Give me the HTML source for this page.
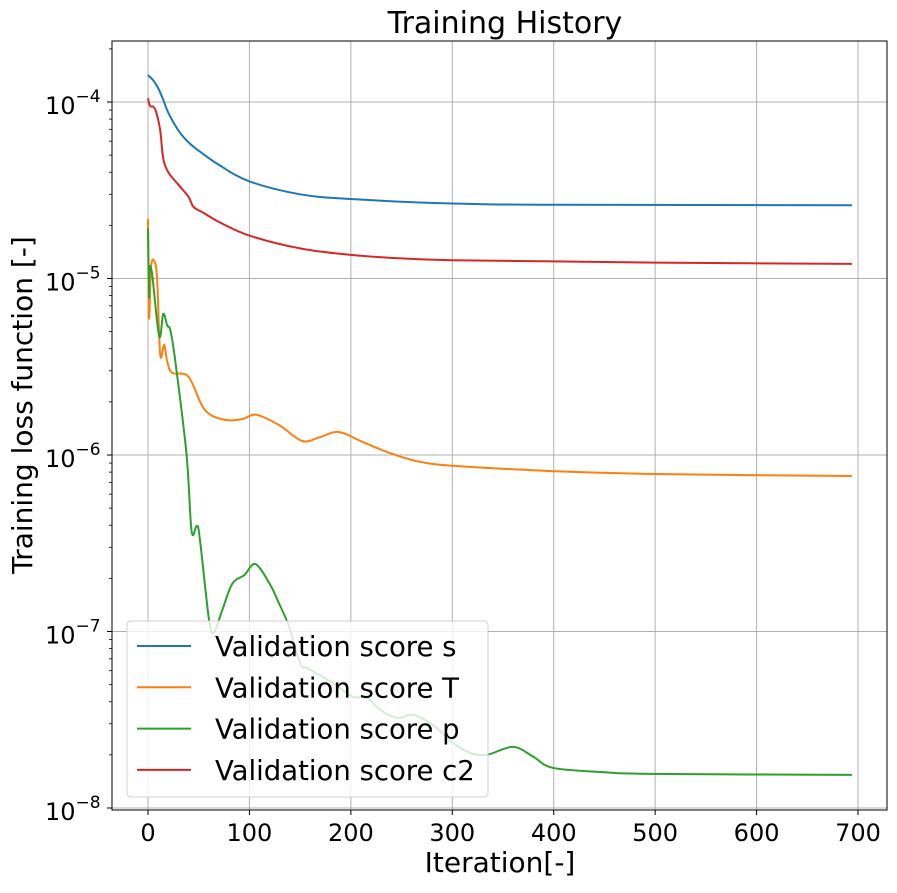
<!DOCTYPE html>
<html><head><meta charset="utf-8"><style>
html,body{margin:0;padding:0;background:#fff;}
svg text{font-family:"DejaVu Sans","Liberation Sans",sans-serif;}
</style></head><body>
<svg id="chart" width="897" height="888" viewBox="0 0 897 888" xmlns="http://www.w3.org/2000/svg">
<rect x="0" y="0" width="897" height="888" fill="#fff"/>
<text x="505" y="33" font-size="30" text-anchor="middle">Training History</text>
<g id="grid"></g>
<g id="series"></g>
<g id="axes"></g>
<text x="500" y="872" font-size="28" text-anchor="middle">Iteration[-]</text>
<text x="0" y="0" font-size="28" text-anchor="middle" transform="translate(32,405) rotate(-90)">Training loss function [-]</text>
<g id="legend"></g>
</svg>
<script>
const xTicks = [0,100,200,300,400,500,600,700];
const yExps = [-4,-5,-6,-7,-8];
const seriesNames = ["Validation score s","Validation score T","Validation score p","Validation score c2"];
const seriesColors = ["#1f77b4","#ff7f0e","#2ca02c","#d62728"];
const sIter = [0,5,10,15,20,30,40,50,70,100,150,200,300,400,694];
const sVal = [1.42e-4,1.33e-4,1.2e-4,1.03e-4,8.7e-5,6.9e-5,5.9e-5,5.3e-5,4.4e-5,3.55e-5,3.0e-5,2.82e-5,2.66e-5,2.62e-5,2.6e-5];
const tIter = [0,1,3,6,9,12,16,19,24,40,56,76,93,107,129,152,169,188,211,230,250,270,300,400,500,694];
const tVal = [2.17e-5,6.0e-6,1.16e-5,1.26e-5,1.0e-5,3.7e-6,4.2e-6,3.37e-6,2.92e-6,2.77e-6,1.8e-6,1.58e-6,1.6e-6,1.69e-6,1.48e-6,1.2e-6,1.26e-6,1.35e-6,1.19e-6,1.07e-6,9.75e-7,9.1e-7,8.7e-7,8.1e-7,7.8e-7,7.6e-7];
const pIter = [0,1,1.5,4,11,15,19,22,27,38,43,48,51,60,65,73,83,95,106,120,129,139,150,157,173,189,202,216,229,246,261,281,301,318,334,360,380,399,446,495,694];
const pVal = [1.93e-5,7.9e-6,1.13e-5,1.06e-5,4.7e-6,6.3e-6,5.4e-6,5.1e-6,3.37e-6,1.01e-6,3.7e-7,3.96e-7,3.4e-7,1.18e-7,9.9e-8,1.31e-7,1.86e-7,2.09e-7,2.41e-7,1.86e-7,1.45e-7,1.07e-7,6.6e-8,6.2e-8,5.5e-8,4.8e-8,4.26e-8,4.2e-8,3.59e-8,3.24e-8,3.37e-8,2.95e-8,2.33e-8,2.05e-8,2.0e-8,2.22e-8,1.95e-8,1.69e-8,1.6e-8,1.56e-8,1.54e-8];
const cIter = [0,2,5,8,12,15,20,30,40,45,55,70,100,150,200,250,300,400,500,694];
const cVal = [1.05e-4,9.5e-5,9.4e-5,8.8e-5,6.9e-5,4.8e-5,4.0e-5,3.4e-5,2.9e-5,2.54e-5,2.35e-5,2.09e-5,1.75e-5,1.48e-5,1.36e-5,1.3e-5,1.27e-5,1.25e-5,1.23e-5,1.21e-5];

const L=112,R=887,T=41,B=810;
const X = v => 148 + v*1.0143;
const Y = v => 102 - (Math.log10(v)+4)*176.5;
const NS="http://www.w3.org/2000/svg";
function mk(tag,attrs,parent){const e=document.createElementNS(NS,tag);for(const k in attrs)e.setAttribute(k,attrs[k]);parent.appendChild(e);return e;}
const grid=document.getElementById('grid'), axes=document.getElementById('axes'), ser=document.getElementById('series'), leg=document.getElementById('legend');

xTicks.forEach(t=>{
  const g=mk('line',{x1:X(t),x2:X(t),y1:T,y2:B,stroke:'#b0b0b0','stroke-width':1},grid);
  
  
  const tk=mk('line',{x1:X(t),x2:X(t),y1:B,y2:B+5,stroke:'#000','stroke-width':1},axes);
  
  
  const tx=mk('text',{x:X(t),y:B+31,'font-size':24,'text-anchor':'middle'},axes);
  tx.textContent=String(t);
  
  
});
yExps.forEach(e=>{
  const y=Y(Math.pow(10,e));
  const g=mk('line',{x1:L,x2:R,y1:y,y2:y,stroke:'#b0b0b0','stroke-width':1},grid);
  
  
  const tk=mk('line',{x1:L-5,x2:L,y1:y,y2:y,stroke:'#000','stroke-width':1},axes);
  
  
  const tx=mk('text',{x:45,y:y+12,'font-size':24},axes);
  
  
  const a=mk('tspan',{},tx);a.textContent='10';
  const b=mk('tspan',{dy:-12,'font-size':17},tx);b.textContent='\u2212'+Math.abs(e);
});
for(let e=-9;e<=-4;e++){for(let m=2;m<=9;m++){const y=Y(m*Math.pow(10,e));if(y<T||y>B)continue;
  const tk=mk('line',{x1:L-3,x2:L,y1:y,y2:y,stroke:'#000','stroke-width':0.8},axes);
  
  }}
const fr=mk('rect',{x:L,y:T,width:R-L,height:B-T,fill:'none',stroke:'#000','stroke-width':1},axes);



function smooth(p){
  let d='M'+p[0][0].toFixed(1)+','+p[0][1].toFixed(1);
  for(let i=0;i<p.length-1;i++){
    const p0=p[Math.max(0,i-1)],p1=p[i],p2=p[i+1],p3=p[Math.min(p.length-1,i+2)];
    const c1x=p1[0]+(p2[0]-p0[0])/6,c1y=p1[1]+(p2[1]-p0[1])/6;
    const c2x=p2[0]-(p3[0]-p1[0])/6,c2y=p2[1]-(p3[1]-p1[1])/6;
    d+=' C'+c1x.toFixed(1)+','+c1y.toFixed(1)+' '+c2x.toFixed(1)+','+c2y.toFixed(1)+' '+p2[0].toFixed(1)+','+p2[1].toFixed(1);
  }
  return d;
}
const data=[[sIter,sVal],[tIter,tVal],[pIter,pVal],[cIter,cVal]];
const names=['series-s','series-t','series-p','series-c2'];
data.forEach((d,i)=>{
  const pts=d[0].map((it,j)=>[X(it),Y(d[1][j])]);
  const pl=mk('path',{d:smooth(pts),fill:'none',stroke:seriesColors[i],'stroke-width':2,'stroke-linejoin':'round'},ser);
  
  
});

const box=mk('rect',{x:127,y:621,width:361,height:176,rx:4,fill:'#fff','fill-opacity':0.8,stroke:'#d0d0d0','stroke-width':1},leg);


seriesNames.forEach((n,i)=>{
  const cy=646+i*41.3;
  const ln=mk('line',{x1:137,x2:191,y1:cy,y2:cy,stroke:seriesColors[i],'stroke-width':2},leg);
  
  
  const tx=mk('text',{x:215,y:cy+10,'font-size':27.5},leg);
  tx.textContent=n;
  
  
});
</script>
</body></html>
